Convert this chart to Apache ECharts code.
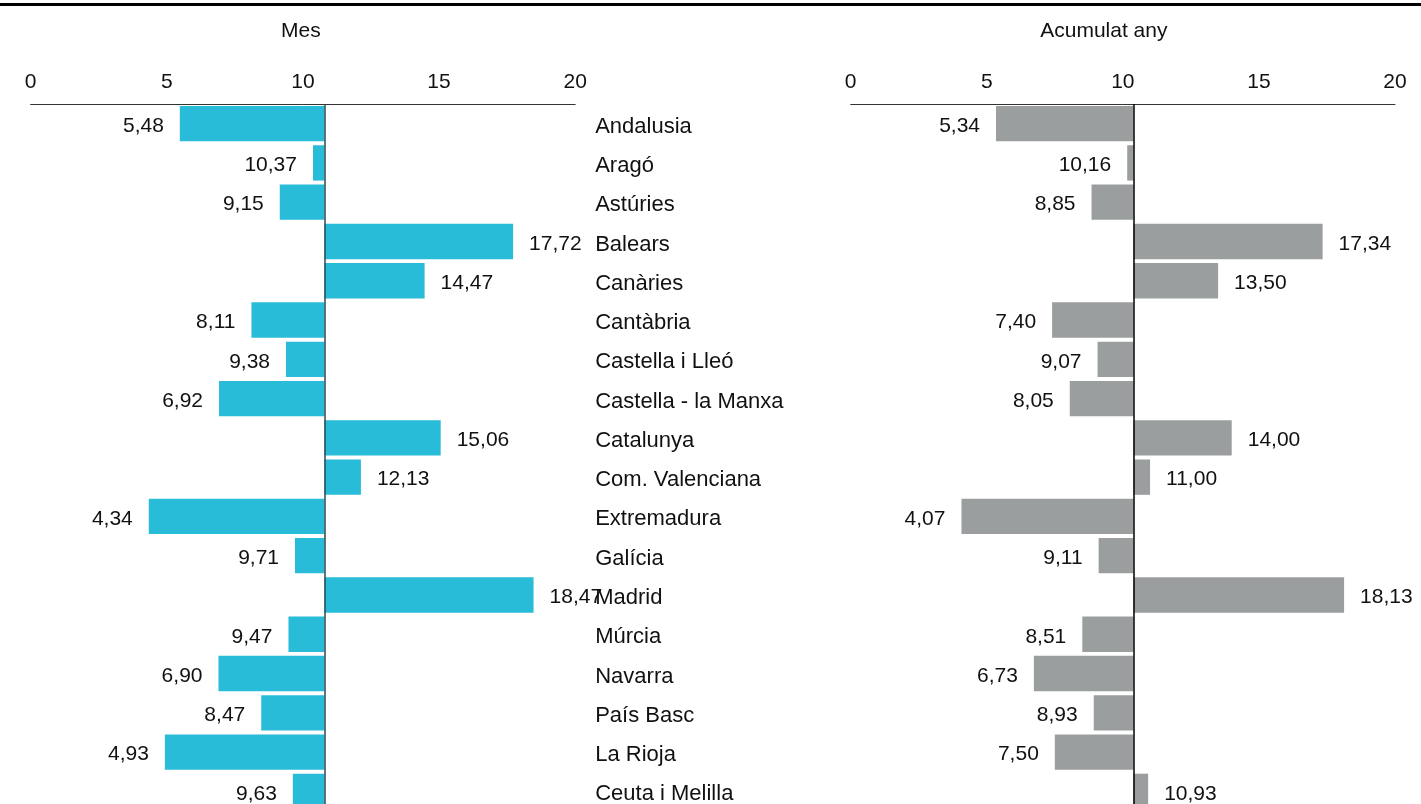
<!DOCTYPE html>
<html>
<head>
<meta charset="utf-8">
<script src="https://cdn.jsdelivr.net/npm/echarts@6/dist/echarts.min.js"></script>
<style>
html,body{margin:0;padding:0;background:#fff;overflow:hidden;width:1421px;height:804px;}
#chart{width:1421px;height:815px;}
</style>
</head>
<body>
<div id="chart"></div>
<script>
const categories = ['Andalusia','Aragó','Astúries','Balears','Canàries','Cantàbria','Castella i Lleó','Castella - la Manxa','Catalunya','Com. Valenciana','Extremadura','Galícia','Madrid','Múrcia','Navarra','País Basc','La Rioja','Ceuta i Melilla'];
const mesValues = [5.48,10.37,9.15,17.72,14.47,8.11,9.38,6.92,15.06,12.13,4.34,9.71,18.47,9.47,6.90,8.47,4.93,9.63];
const anyValues = [5.34,10.16,8.85,17.34,13.50,7.40,9.07,8.05,14.00,11.00,4.07,9.11,18.13,8.51,6.73,8.93,7.50,10.93];
const mesBase = 10.79;
const anyBase = 10.39;
const panelTitles = ['Mes','Acumulat any'];
const tickValues = [0,5,10,15,20];

const FONT = '"Liberation Sans", Arial, Helvetica, sans-serif';
const TXT = '#111';

function fmt(v){ return v.toFixed(2).replace('.', ','); }

function makeSeries(values, base, color, idx, lineColor){
  const hidden = values.map(v => Math.min(v, base));
  const vis = values.map(v => ({
    value: Math.abs(v - base),
    label: { position: v < base ? 'left' : 'right' }
  }));
  return [
    {
      type:'bar', stack:'s'+idx, xAxisIndex:idx, yAxisIndex:idx,
      data: hidden, itemStyle:{color:'rgba(0,0,0,0)'}, barCategoryGap:'10%',
      silent:true,
      markLine:{
        silent:true, symbol:'none', animation:false,
        label:{show:false},
        lineStyle:{color:lineColor, width:1.5, type:'solid'},
        data:[{xAxis: base}]
      }
    },
    {
      type:'bar', stack:'s'+idx, xAxisIndex:idx, yAxisIndex:idx,
      data: vis, itemStyle:{color:color}, barCategoryGap:'10%',
      label:{
        show:true, distance:16, color:TXT, fontSize:21, fontFamily:FONT,
        offset:[0,2.5],
        formatter: p => fmt(values[p.dataIndex])
      }
    }
  ];
}

function xAxisFor(idx, namePad){
  return {
    gridIndex:idx, type:'value', position:'top', min:0, max:20, interval:5,
    name: panelTitles[idx], nameLocation:'middle', nameGap:62,
    nameTextStyle:{color:TXT, fontSize:21, fontFamily:FONT, padding:namePad},
    axisLine:{show:true, lineStyle:{color:'#333', width:1}},
    axisTick:{show:false}, splitLine:{show:false},
    axisLabel:{color:TXT, fontSize:21, fontFamily:FONT, margin:11,
      formatter: v => tickValues.includes(v) ? String(v) : ''}
  };
}

const chart = echarts.init(document.getElementById('chart'), null, {renderer:'canvas'});
chart.setOption({
  animation:false,
  backgroundColor:'#fff',
  graphic:[{type:'rect', shape:{x:0, y:3, width:1421, height:3}, style:{fill:'#000'}}],
  grid:[
    {left:30.6, width:544.6, top:104, height:707},
    {left:850.7, width:544.3, top:104, height:707}
  ],
  xAxis:[xAxisFor(0, [0,4,0,0]), xAxisFor(1, [0,38,0,0])],
  yAxis:[
    {gridIndex:0, type:'category', data:categories, inverse:true, position:'right',
      axisLine:{show:false}, axisTick:{show:false}, splitLine:{show:false},
      axisLabel:{color:TXT, fontSize:22, fontFamily:FONT, margin:20, align:'left',
        verticalAlign:'top', lineHeight:6}},
    {gridIndex:1, type:'category', data:categories, inverse:true,
      axisLine:{show:false}, axisTick:{show:false}, splitLine:{show:false},
      axisLabel:{show:false}}
  ],
  series:[
    ...makeSeries(mesValues, mesBase, '#29bcd8', 0, '#2b4a52'),
    ...makeSeries(anyValues, anyBase, '#9b9e9f', 1, '#000')
  ]
});
</script>
</body>
</html>
